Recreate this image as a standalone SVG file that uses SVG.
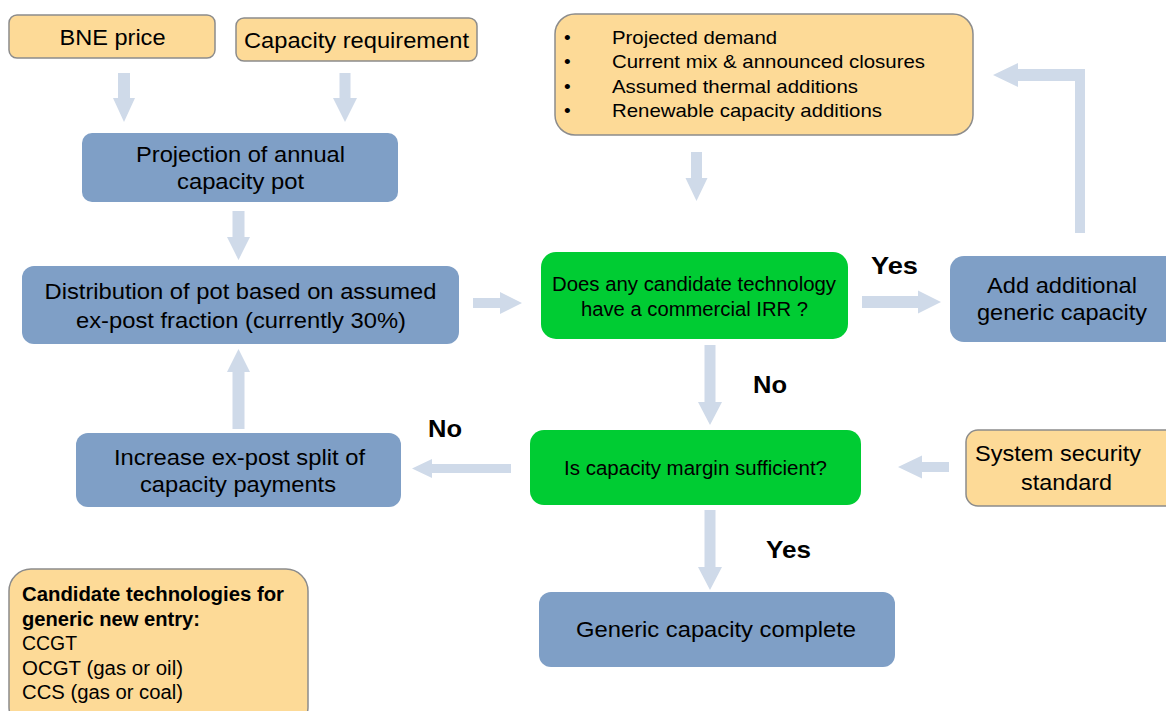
<svg xmlns="http://www.w3.org/2000/svg" width="1166" height="711" viewBox="0 0 1166 711">
  <style>
    text { font-family: "Liberation Sans", Arial, sans-serif; fill: #000; }
    .input { fill: #FDDA97; stroke: #8C8C8C; stroke-width: 1.5; }
    .step { fill: #7F9FC6; }
    .decision { fill: #00CC33; }
    .arrow { fill: #CFDAE9; }
    .big { font-size: 22px; text-anchor: middle; }
    .mid { font-size: 20px; text-anchor: middle; }
    .list { font-size: 19px; }
    .note { font-size: 20px; }
    .label { font-size: 24px; font-weight: bold; }
  </style>

  <rect width="1166" height="711" fill="#FFFFFF"/>

  <!-- block-arrow connectors -->
  <g id="connectors">
    <path class="arrow" d="M118,73 H130 V98 H135 L124,122 L113,98 H118 Z"/>
    <path class="arrow" d="M339.5,73 H350.5 V98 H357 L345,122 L333,98 H339.5 Z"/>
    <path class="arrow" d="M232.5,211 H244.5 V237 H250 L238.5,260 L227,237 H232.5 Z"/>
    <path class="arrow" d="M691,152 H702 V178 H707.5 L696.5,201 L685.5,178 H691 Z"/>
    <path class="arrow" d="M704.5,345 H715.5 V402 H722 L710,425 L698,402 H704.5 Z"/>
    <path class="arrow" d="M704.5,510 H715.5 V567 H722 L710,590 L698,567 H704.5 Z"/>
    <path class="arrow" d="M232.5,429 H244.5 V372 H250 L238.5,349 L227,372 H232.5 Z"/>
    <path class="arrow" d="M473,298 V308 H500 V314 L522,303 L500,292 V298 Z"/>
    <path class="arrow" d="M862,296 V308 H918 V313.5 L941,302 L918,290.5 V296 Z"/>
    <path class="arrow" d="M511,464 V473 H432 V478 L412,468.5 L432,459 V464 Z"/>
    <path class="arrow" d="M949,462 V472 H922 V478.5 L898,467 L922,455.5 V462 Z"/>
    <path class="arrow" d="M1075,233 V81 H1018 V87 L993,75 L1018,63 V69 H1085 V233 Z"/>
  </g>

  <g id="bne-price">
    <rect class="input" x="9" y="15" width="206" height="43" rx="8"/>
    <text class="big" x="112.5" y="45" textLength="106" lengthAdjust="spacingAndGlyphs">BNE price</text>
  </g>

  <g id="capacity-requirement">
    <rect class="input" x="236" y="18" width="241" height="43" rx="8"/>
    <text class="big" x="356.5" y="48" textLength="225" lengthAdjust="spacingAndGlyphs">Capacity requirement</text>
  </g>

  <g id="projection">
    <rect class="step" x="82" y="133" width="316" height="69" rx="10"/>
    <text class="big" x="240.5" y="162" textLength="209" lengthAdjust="spacingAndGlyphs">Projection of annual</text>
    <text class="big" x="240.5" y="189" textLength="127" lengthAdjust="spacingAndGlyphs">capacity pot</text>
  </g>

  <g id="distribution">
    <rect class="step" x="22" y="266" width="437" height="78" rx="12"/>
    <text class="big" x="240.5" y="299" textLength="392" lengthAdjust="spacingAndGlyphs">Distribution of pot based on assumed</text>
    <text class="big" x="241" y="328" textLength="330" lengthAdjust="spacingAndGlyphs">ex-post fraction (currently 30%)</text>
  </g>

  <g id="increase-split">
    <rect class="step" x="76" y="433" width="325" height="74" rx="12"/>
    <text class="big" x="239.5" y="465" textLength="251" lengthAdjust="spacingAndGlyphs">Increase ex-post split of</text>
    <text class="big" x="238" y="492" textLength="196" lengthAdjust="spacingAndGlyphs">capacity payments</text>
  </g>

  <g id="market-inputs">
    <rect class="input" x="555" y="14" width="418" height="121" rx="20"/>
    <g class="list">
      <text x="564" y="44">•</text>
      <text x="612" y="44" textLength="165" lengthAdjust="spacingAndGlyphs">Projected demand</text>
      <text x="564" y="68">•</text>
      <text x="612" y="68" textLength="313" lengthAdjust="spacingAndGlyphs">Current mix &amp; announced closures</text>
      <text x="564" y="93">•</text>
      <text x="612" y="93" textLength="246" lengthAdjust="spacingAndGlyphs">Assumed thermal additions</text>
      <text x="564" y="117">•</text>
      <text x="612" y="117" textLength="270" lengthAdjust="spacingAndGlyphs">Renewable capacity additions</text>
    </g>
  </g>

  <g id="irr-check">
    <rect class="decision" x="541" y="252" width="307" height="87" rx="15"/>
    <text class="mid" x="694" y="291" textLength="284" lengthAdjust="spacingAndGlyphs">Does any candidate technology</text>
    <text class="mid" x="694.5" y="316" textLength="227" lengthAdjust="spacingAndGlyphs">have a commercial IRR ?</text>
  </g>

  <g id="add-capacity">
    <rect class="step" x="950" y="256" width="230" height="86" rx="14"/>
    <text class="big" x="1062" y="293" textLength="150" lengthAdjust="spacingAndGlyphs">Add additional</text>
    <text class="big" x="1062" y="320" textLength="170" lengthAdjust="spacingAndGlyphs">generic capacity</text>
  </g>

  <g id="margin-check">
    <rect class="decision" x="530" y="430" width="331" height="75" rx="14"/>
    <text class="mid" x="695.5" y="475" textLength="263" lengthAdjust="spacingAndGlyphs">Is capacity margin sufficient?</text>
  </g>

  <g id="security-standard">
    <rect class="input" x="966" y="430" width="220" height="76" rx="12"/>
    <text class="big" x="1058" y="461" textLength="166" lengthAdjust="spacingAndGlyphs">System security</text>
    <text class="big" x="1066.5" y="490" textLength="91" lengthAdjust="spacingAndGlyphs">standard</text>
  </g>

  <g id="capacity-complete">
    <rect class="step" x="539" y="592" width="356" height="75" rx="12"/>
    <text class="big" x="716" y="637" textLength="280" lengthAdjust="spacingAndGlyphs">Generic capacity complete</text>
  </g>

  <g id="candidate-technologies">
    <rect class="input" x="9" y="569" width="299" height="160" rx="22"/>
    <g class="note">
      <text x="22" y="601" font-weight="bold" textLength="262" lengthAdjust="spacingAndGlyphs">Candidate technologies for</text>
      <text x="22" y="626" font-weight="bold" textLength="178" lengthAdjust="spacingAndGlyphs">generic new entry:</text>
      <text x="22" y="650" textLength="55" lengthAdjust="spacingAndGlyphs">CCGT</text>
      <text x="22" y="675" textLength="161" lengthAdjust="spacingAndGlyphs">OCGT (gas or oil)</text>
      <text x="22" y="699" textLength="161" lengthAdjust="spacingAndGlyphs">CCS (gas or coal)</text>
    </g>
  </g>

  <!-- branch labels -->
  <g id="labels" class="label">
    <text x="871" y="274" textLength="47" lengthAdjust="spacingAndGlyphs">Yes</text>
    <text x="753" y="393" textLength="34" lengthAdjust="spacingAndGlyphs">No</text>
    <text x="428" y="437" textLength="34" lengthAdjust="spacingAndGlyphs">No</text>
    <text x="766" y="558" textLength="45" lengthAdjust="spacingAndGlyphs">Yes</text>
  </g>
</svg>
